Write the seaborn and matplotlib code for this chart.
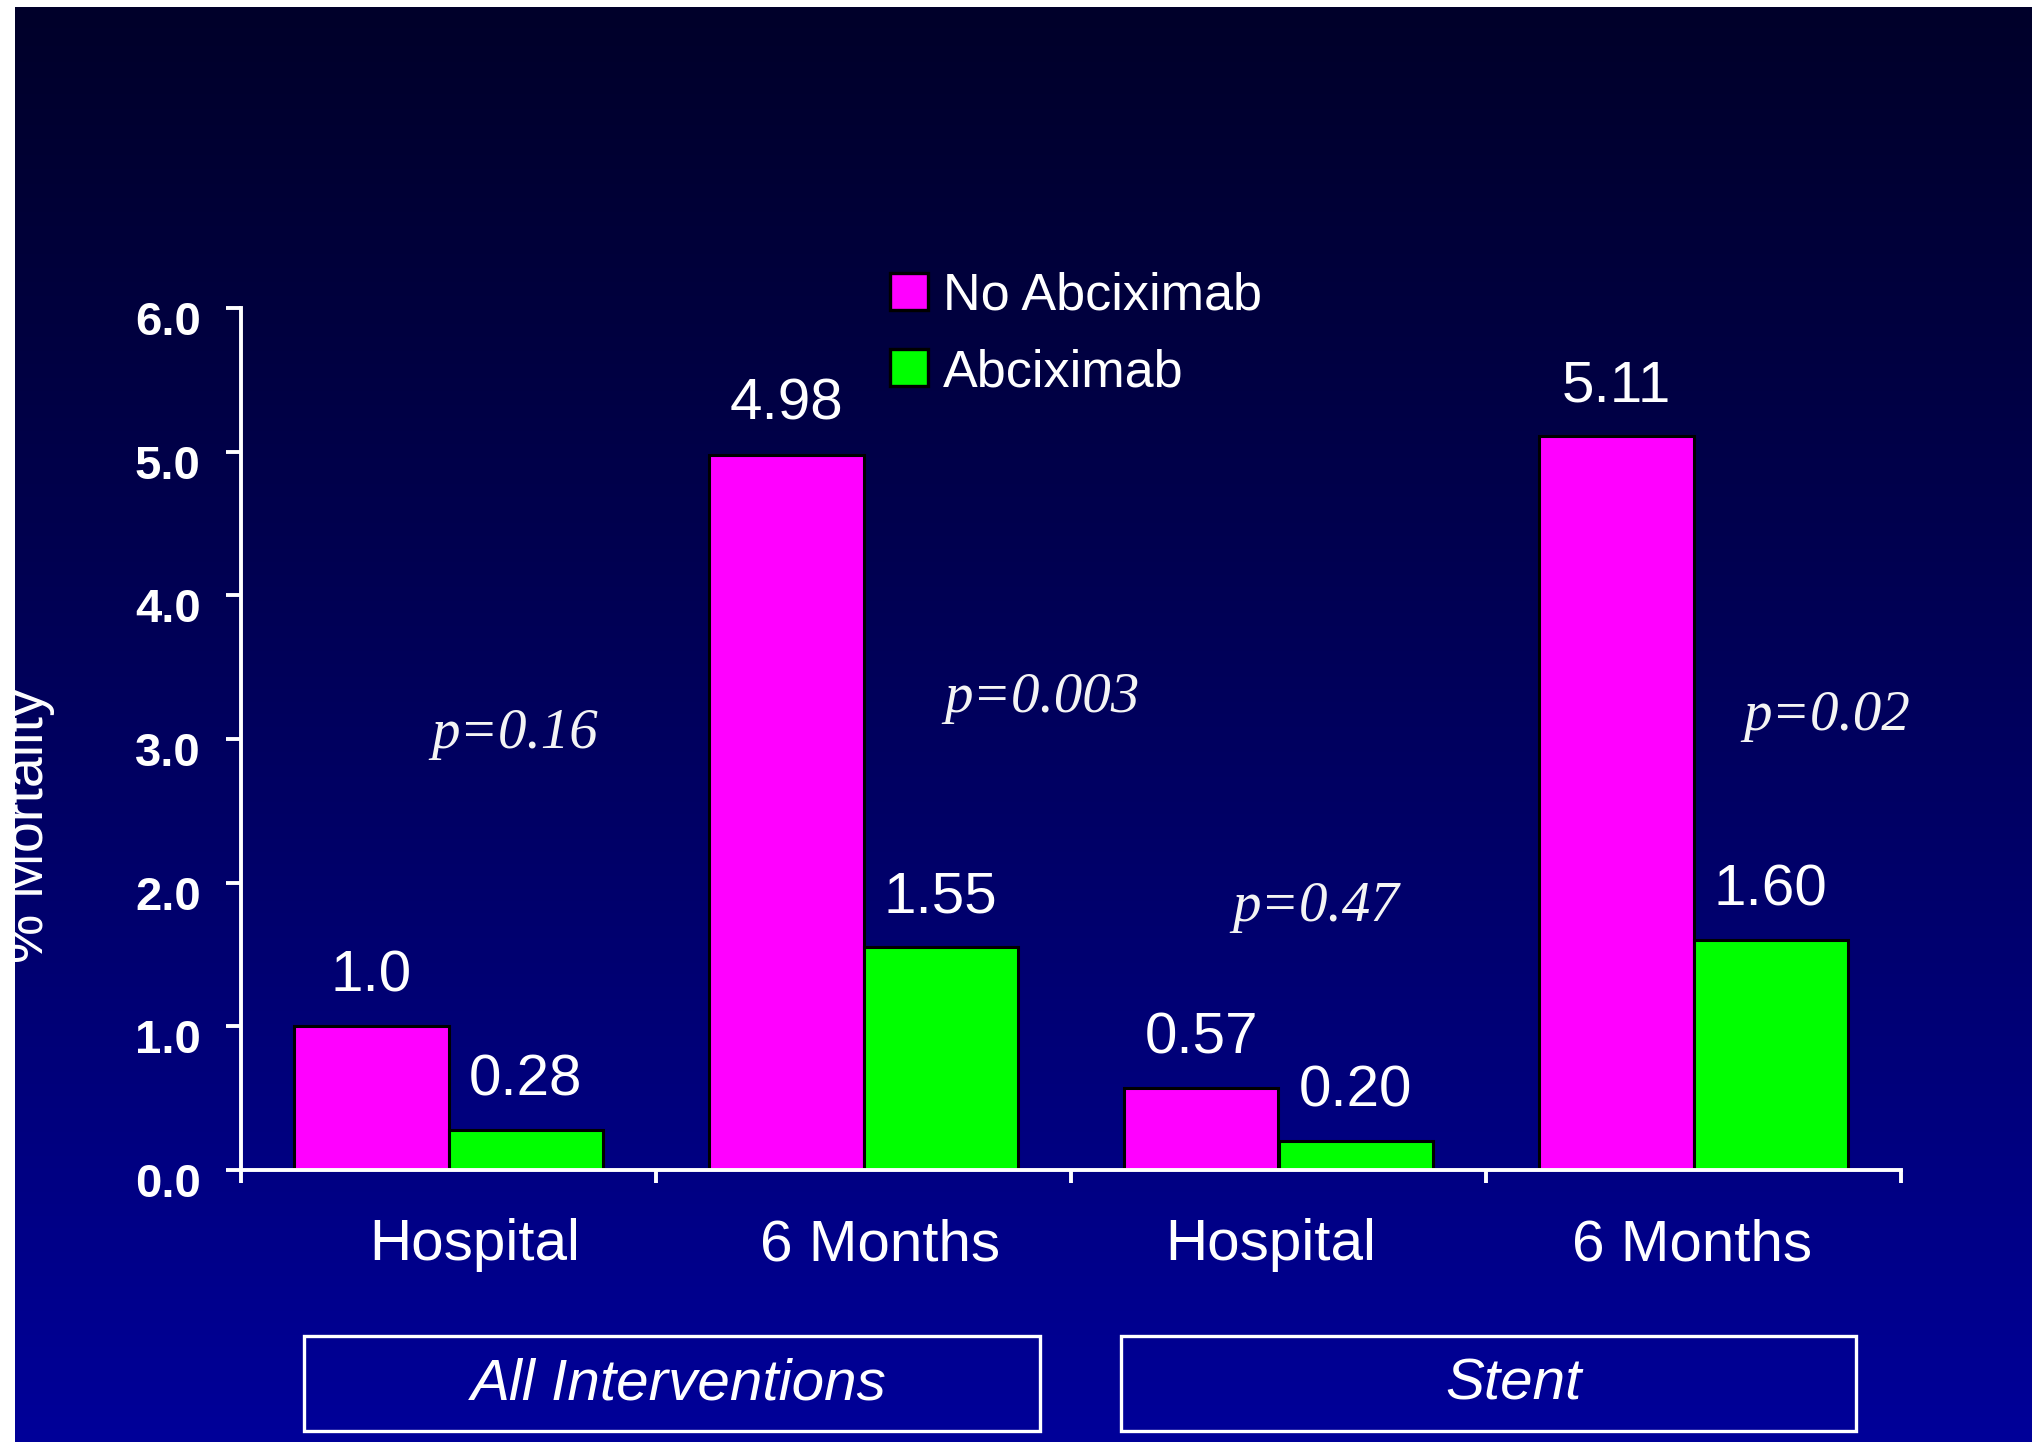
import numpy as np
import pandas as pd
import matplotlib
matplotlib.use("Agg")
import matplotlib.pyplot as plt
import matplotlib.patches as mpatches
from matplotlib.transforms import ScaledTranslation
import seaborn as sns

# ---- data ----
categories = ["Hospital", "6 Months", "Hospital", "6 Months"]
groups = ["All Interventions", "All Interventions", "Stent", "Stent"]
group_names = ["All Interventions", "Stent"]
series = ["No Abciximab", "Abciximab"]
labels_no = ["1.0", "4.98", "0.57", "5.11"]
labels_yes = ["0.28", "1.55", "0.20", "1.60"]
p_values = ["p=0.16", "p=0.003", "p=0.47", "p=0.02"]
yticks = [0, 1, 2, 3, 4, 5, 6]
ylabel = "% Mortality"

values_no = [float(s) for s in labels_no]
values_yes = [float(s) for s in labels_yes]
slots = [f"{g} / {c}" for g, c in zip(groups, categories)]

df = pd.DataFrame({
    "slot": slots * 2,
    "series": [series[0]] * 4 + [series[1]] * 4,
    "value": values_no + values_yes,
})

sns.set_theme(style="white")
plt.rcParams["font.family"] = ["Liberation Sans", "DejaVu Sans"]

W, H, DPI = 2032, 1442, 100
fig = plt.figure(figsize=(W / DPI, H / DPI), dpi=DPI, facecolor="white")

# dark navy gradient panel
bg = fig.add_axes([15 / W, 0, 1 - 15 / W, 1 - 7 / H], zorder=-10)
n = 512
t = np.linspace(0, 1, n)
blue = 42 + (153 - 42) * t ** 1.1
grad = np.zeros((n, 1, 3))
grad[:, 0, 2] = blue / 255.0
bg.imshow(grad, aspect="auto", extent=[0, 1, 0, 1], origin="upper")
bg.set_xlim(0, 1)
bg.set_ylim(0, 1)
bg.axis("off")
bg.text(43 / W, 1 - 826 / H, ylabel, transform=fig.transFigure, rotation=90,
        rotation_mode="anchor", ha="center", va="baseline", fontsize=40,
        color="white", clip_on=True)

# main chart
ax = fig.add_axes([241 / W, (H - 1170) / H, 1660 / W, 862 / H])
ax.set_facecolor("none")
palette = ["#FF00FF", "#00FF00"]
sns.barplot(data=df, x="slot", y="value", hue="series", order=slots,
            hue_order=series, palette=palette, width=0.744, saturation=1,
            edgecolor="black", linewidth=2.2, errorbar=None, legend=False, ax=ax)

for container, labs in zip(ax.containers, [labels_no, labels_yes]):
    for bar, lab in zip(container, labs):
        ax.annotate(lab, (bar.get_x() + bar.get_width() / 2, bar.get_height()),
                    xytext=(0, 25), textcoords="offset points", ha="center",
                    va="baseline", fontsize=42, color="white")

ax.set_xlim(-0.5, 3.5)
ax.set_ylim(0, 6)
ax.set_xlabel("")
ax.set_ylabel("")

for side in ["top", "right"]:
    ax.spines[side].set_visible(False)
for side in ["left", "bottom"]:
    ax.spines[side].set_color("white")
    ax.spines[side].set_linewidth(2.8)

ax.set_yticks(yticks)
ax.set_yticklabels([f"{v:.1f}" for v in yticks], fontsize=34,
                   fontweight="bold", color="white")
ax.tick_params(axis="y", direction="out", length=11, width=2.8,
               color="white", pad=18, left=True)
shift = ScaledTranslation(0, -0.10, fig.dpi_scale_trans)
for lab in ax.get_yticklabels():
    lab.set_transform(lab.get_transform() + shift)

ax.set_xticks(range(len(categories)))
ax.set_xticklabels(categories, fontsize=42, color="white")
ax.set_xticks([i - 0.5 for i in range(len(categories) + 1)], minor=True)
ax.tick_params(axis="x", which="major", length=0, pad=65, bottom=True)
ax.tick_params(axis="x", which="minor", direction="out", length=9,
               width=2.8, color="white", bottom=True)
# category labels sit slightly off-centre, as laid out on the slide
label_nudge_px = [26, 17, -8, -1]
for lab, dx in zip(ax.get_xticklabels(), label_nudge_px):
    lab.set_va("baseline")
    lab.set_transform(lab.get_transform()
                      + ScaledTranslation(dx / DPI, 0, fig.dpi_scale_trans))

# p-value annotations
p_pos = [(0.16, 2.94), (1.43, 3.185), (2.09, 1.73), (3.32, 3.06)]
for txt, (x, y) in zip(p_values, p_pos):
    ax.text(x, y, txt, ha="center", va="baseline", fontsize=41,
            family=["Liberation Serif", "DejaVu Serif"], style="italic",
            color="#F4F4F4")

# legend
handles = [mpatches.Patch(facecolor=c, edgecolor="black", linewidth=2.4)
           for c in palette]
ax.legend(handles, series, loc="upper left",
          bbox_to_anchor=(890 / W, 1 - 272 / H), bbox_transform=fig.transFigure,
          frameon=False, fontsize=37.5, handlelength=0.72, handleheight=0.72,
          handletextpad=0.3, labelspacing=0.52, borderpad=0, borderaxespad=0,
          labelcolor="white")

# group boxes under the category labels
box_px = [(304, 1040), (1121, 1856)]
text_nudge_px = [7, 25]
for name, (x0, x1), dx in zip(group_names, box_px, text_nudge_px):
    fig.add_artist(mpatches.Rectangle((x0 / W, 1 - 1431 / H), (x1 - x0) / W,
                                      95 / H, transform=fig.transFigure,
                                      fill=False, edgecolor="white", lw=2.4))
    fig.text(((x0 + x1) / 2 + dx) / W, 1 - 1399 / H, name, ha="center",
             va="baseline", fontsize=42, style="italic", color="white")

fig.savefig("out.png", dpi=DPI, facecolor="white")
